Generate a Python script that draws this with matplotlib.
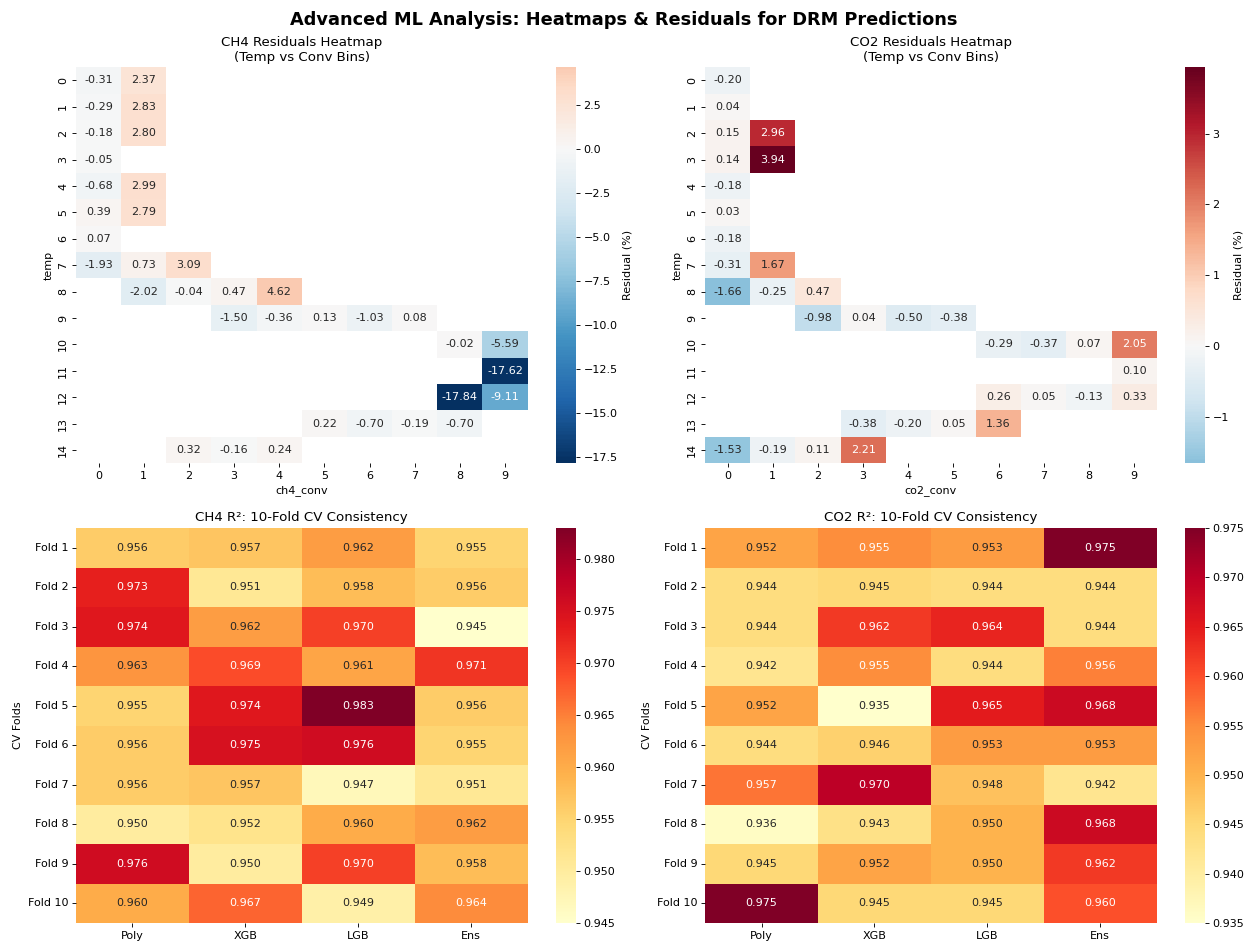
import numpy as np
import pandas as pd
import matplotlib
matplotlib.use("Agg")
import matplotlib.pyplot as plt
import seaborn as sns

N = None

# CH4 residuals (%) by temp bin (rows) and ch4_conv bin (cols)
ch4_resid = [
    [-0.31, 2.37, N, N, N, N, N, N, N, N],
    [-0.29, 2.83, N, N, N, N, N, N, N, N],
    [-0.18, 2.80, N, N, N, N, N, N, N, N],
    [-0.05, N, N, N, N, N, N, N, N, N],
    [-0.68, 2.99, N, N, N, N, N, N, N, N],
    [0.39, 2.79, N, N, N, N, N, N, N, N],
    [0.07, N, N, N, N, N, N, N, N, N],
    [-1.93, 0.73, 3.09, N, N, N, N, N, N, N],
    [N, -2.02, -0.04, 0.47, 4.62, N, N, N, N, N],
    [N, N, N, -1.50, -0.36, 0.13, -1.03, 0.08, N, N],
    [N, N, N, N, N, N, N, N, -0.02, -5.59],
    [N, N, N, N, N, N, N, N, N, -17.62],
    [N, N, N, N, N, N, N, N, -17.84, -9.11],
    [N, N, N, N, N, 0.22, -0.70, -0.19, -0.70, N],
    [N, N, 0.32, -0.16, 0.24, N, N, N, N, N],
]

# CO2 residuals (%) by temp bin (rows) and co2_conv bin (cols)
co2_resid = [
    [-0.20, N, N, N, N, N, N, N, N, N],
    [0.04, N, N, N, N, N, N, N, N, N],
    [0.15, 2.96, N, N, N, N, N, N, N, N],
    [0.14, 3.94, N, N, N, N, N, N, N, N],
    [-0.18, N, N, N, N, N, N, N, N, N],
    [0.03, N, N, N, N, N, N, N, N, N],
    [-0.18, N, N, N, N, N, N, N, N, N],
    [-0.31, 1.67, N, N, N, N, N, N, N, N],
    [-1.66, -0.25, 0.47, N, N, N, N, N, N, N],
    [N, N, -0.98, 0.04, -0.50, -0.38, N, N, N, N],
    [N, N, N, N, N, N, -0.29, -0.37, 0.07, 2.05],
    [N, N, N, N, N, N, N, N, N, 0.10],
    [N, N, N, N, N, N, 0.26, 0.05, -0.13, 0.33],
    [N, N, N, -0.38, -0.20, 0.05, 1.36, N, N, N],
    [-1.53, -0.19, 0.11, 2.21, N, N, N, N, N, N],
]

models = ["Poly", "XGB", "LGB", "Ens"]
folds = [f"Fold {i}" for i in range(1, 11)]

ch4_r2 = [
    [0.956, 0.957, 0.962, 0.955],
    [0.973, 0.951, 0.958, 0.956],
    [0.974, 0.962, 0.970, 0.945],
    [0.963, 0.969, 0.961, 0.971],
    [0.955, 0.974, 0.983, 0.956],
    [0.956, 0.975, 0.976, 0.955],
    [0.956, 0.957, 0.947, 0.951],
    [0.950, 0.952, 0.960, 0.962],
    [0.976, 0.950, 0.970, 0.958],
    [0.960, 0.967, 0.949, 0.964],
]

co2_r2 = [
    [0.952, 0.955, 0.953, 0.975],
    [0.944, 0.945, 0.944, 0.944],
    [0.944, 0.962, 0.964, 0.944],
    [0.942, 0.955, 0.944, 0.956],
    [0.952, 0.935, 0.965, 0.968],
    [0.944, 0.946, 0.953, 0.953],
    [0.957, 0.970, 0.948, 0.942],
    [0.936, 0.943, 0.950, 0.968],
    [0.945, 0.952, 0.950, 0.962],
    [0.975, 0.945, 0.945, 0.960],
]


def to_frame(rows):
    return pd.DataFrame(np.array(rows, dtype=float))


fig = plt.figure(figsize=(1247 / 80, 942 / 80), dpi=80)

# panel layout: heatmap + its colorbar, per quadrant
cols = [(0.0609, 0.4459), (0.5654, 0.9503)]
rows = [(0.5082, 0.4204), (0.0199, 0.4196)]
axes, caxes = {}, {}
for r, (y0, h) in enumerate(rows):
    for c, (x0, cx) in enumerate(cols):
        axes[r, c] = fig.add_axes([x0, y0, 0.3622, h])
        caxes[r, c] = fig.add_axes([cx, y0, 0.0158, h])

sns.heatmap(to_frame(ch4_resid), annot=True, fmt=".2f", cmap="RdBu_r", center=0,
            ax=axes[0, 0], cbar_ax=caxes[0, 0], cbar_kws={"label": "Residual (%)"})
axes[0, 0].set_title("CH4 Residuals Heatmap\n(Temp vs Conv Bins)")
axes[0, 0].set_xlabel("ch4_conv")
axes[0, 0].set_ylabel("temp")

sns.heatmap(to_frame(co2_resid), annot=True, fmt=".2f", cmap="RdBu_r", center=0,
            ax=axes[0, 1], cbar_ax=caxes[0, 1], cbar_kws={"label": "Residual (%)"})
axes[0, 1].set_title("CO2 Residuals Heatmap\n(Temp vs Conv Bins)")
axes[0, 1].set_xlabel("co2_conv")
axes[0, 1].set_ylabel("temp")

sns.heatmap(pd.DataFrame(ch4_r2, index=folds, columns=models), annot=True, fmt=".3f",
            cmap="YlOrRd", ax=axes[1, 0], cbar_ax=caxes[1, 0])
axes[1, 0].set_title("CH4 R²: 10-Fold CV Consistency")
axes[1, 0].set_ylabel("CV Folds")

sns.heatmap(pd.DataFrame(co2_r2, index=folds, columns=models), annot=True, fmt=".3f",
            cmap="YlOrRd", ax=axes[1, 1], cbar_ax=caxes[1, 1])
axes[1, 1].set_title("CO2 R²: 10-Fold CV Consistency")
axes[1, 1].set_ylabel("CV Folds")

for c in range(2):
    plt.setp(axes[1, c].get_yticklabels(), rotation=0)

fig.suptitle("Advanced ML Analysis: Heatmaps & Residuals for DRM Predictions",
             fontsize=16, fontweight="bold", y=0.988)
plt.savefig("out.png", dpi=80)
